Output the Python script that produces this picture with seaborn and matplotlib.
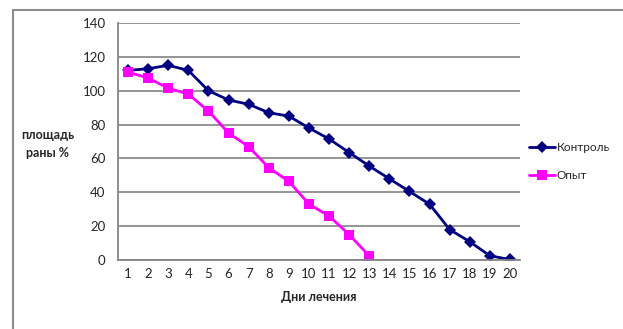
import pandas as pd
import matplotlib.pyplot as plt
import seaborn as sns
from matplotlib.patches import Rectangle

days = list(range(1, 21))
control = [112, 113, 115, 112, 100, 94.5, 92, 87, 85, 78, 71.5, 63.5, 55.5, 48, 40.5, 33, 18, 10.8, 2.5, 0.3]
experiment = [111, 107.5, 101.5, 98, 88, 75, 67, 54.5, 46.5, 33, 26, 15, 2.4]
series_names = ["Контроль", "Опыт"]
colors = {"Контроль": "#000080", "Опыт": "#FF00FF"}
markers = {"Контроль": "D", "Опыт": "s"}


def build_frame():
    a = pd.DataFrame({"day": days, "area": control, "group": series_names[0]})
    b = pd.DataFrame({"day": days[:len(experiment)], "area": experiment, "group": series_names[1]})
    return pd.concat([a, b], ignore_index=True)


def plot_chart(df):
    sns.set_style("white")
    plt.rcParams['font.family'] = ['Lato', 'DejaVu Sans']
    fig = plt.figure(figsize=(6.23, 3.29), dpi=100)
    ax = fig.add_axes([118 / 623, 1 - 260 / 329, 402 / 623, 237 / 329])

    # outer frame (only top/left visible in the original)
    fig.patches.append(Rectangle((12.5 / 623, -0.1), 1.2, 1 - 9.5 / 329 + 0.1,
                                 transform=fig.transFigure, fill=False,
                                 edgecolor="#8c8c8c", linewidth=1.5))

    sns.lineplot(data=df, x="day", y="area", hue="group", style="group",
                 palette=colors, markers=markers, dashes=False, linewidth=2,
                 markersize=7, markeredgewidth=0, ax=ax)
    for line in ax.lines:
        if line.get_marker() == "D":
            line.set_markersize(6.5)

    ax.set_xlim(0.5, 20.5)
    ax.set_ylim(0, 140)
    ax.set_yticks(range(0, 141, 20))
    ax.set_xticks(days)
    ax.set_xticks([d + 0.5 for d in range(0, 21)], minor=True)
    ax.tick_params(axis="x", which="major", length=0, labelsize=9.5, pad=6)
    ax.tick_params(axis="x", which="minor", length=5, width=1, color="#868686", direction="out")
    ax.tick_params(axis="y", length=5, width=1, color="#868686", direction="out", labelsize=9.5, pad=4)
    ax.grid(axis="y", color="#8c8c8c", linewidth=1.3)
    ax.set_axisbelow(True)
    for side in ["top", "right"]:
        ax.spines[side].set_visible(False)
    for side in ["left", "bottom"]:
        ax.spines[side].set_color("#868686")
        ax.spines[side].set_linewidth(1.3)

    ax.set_xlabel("Дни лечения", fontsize=9, fontweight="bold", labelpad=8)
    ax.set_ylabel("площадь\nраны %", fontsize=9, fontweight="bold", rotation=0,
                  ha="center", va="center", labelpad=0, linespacing=1.6)
    ax.yaxis.set_label_coords(-0.175, 0.49)

    handles, labels = ax.get_legend_handles_labels()
    ax.legend(handles, labels, loc="center left", bbox_to_anchor=(1.0, 0.415),
              frameon=False, fontsize=8.5, handlelength=2.2, handletextpad=0.1,
              labelspacing=1.5, borderaxespad=0.6, borderpad=0.2)

    plt.savefig("out.png", dpi=100)
    plt.close()


def main():
    df = build_frame()
    plot_chart(df)


if __name__ == "__main__":
    main()
